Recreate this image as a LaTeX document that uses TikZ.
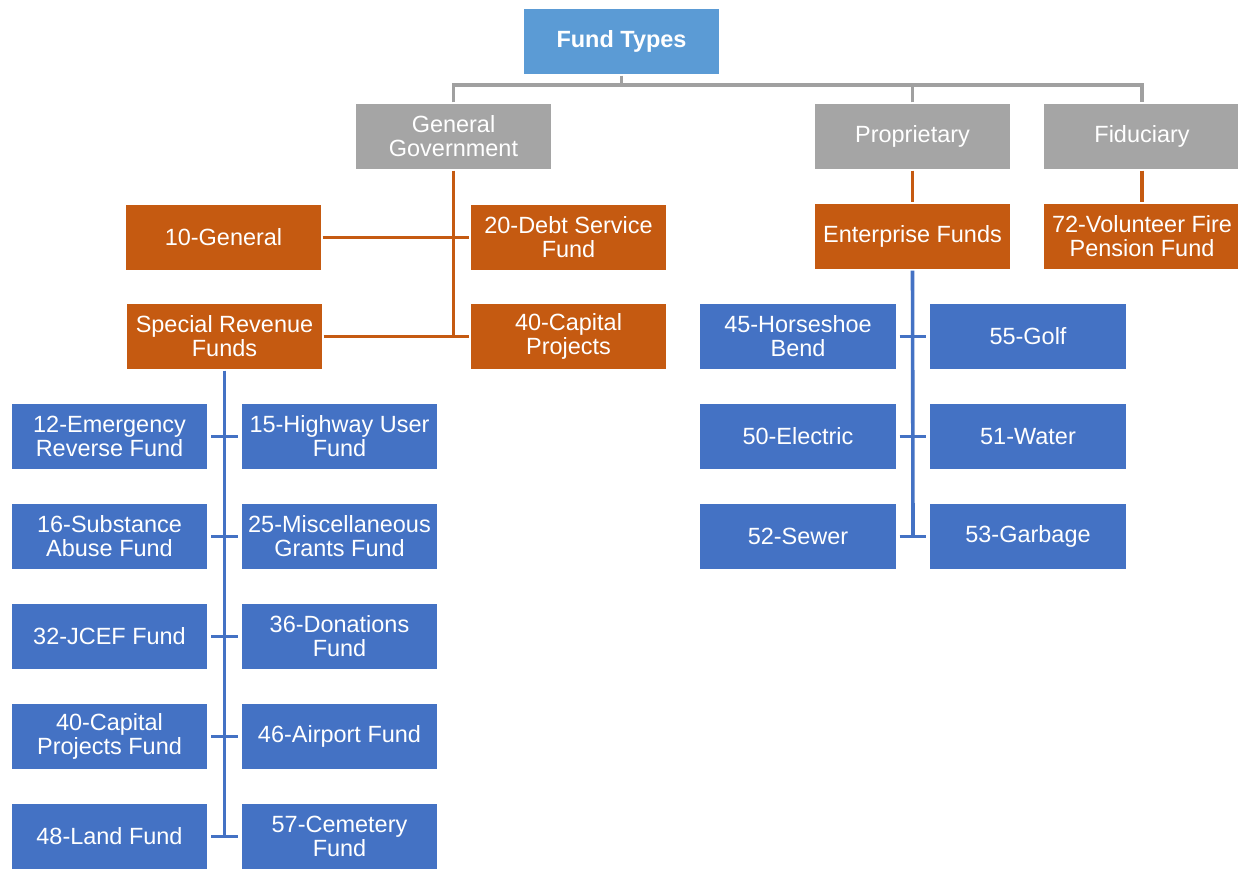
\documentclass[tikz,border=0pt]{standalone}
\usepackage{fontspec}
\setmainfont{Liberation Sans}
\definecolor{bluebox}{HTML}{4472C4}
\definecolor{topblue}{HTML}{5B9BD5}
\definecolor{graybox}{HTML}{A5A5A5}
\definecolor{grayline}{HTML}{A0A0A0}
\definecolor{orangebox}{HTML}{C55A11}
\begin{document}
\begin{tikzpicture}[x=0.75pt,y=-0.75pt,
  box/.style={draw=white, line width=0.8pt, minimum width=147.75pt, minimum height=50.25pt,
    align=center, text=white, inner sep=0pt, font=\fontsize{17.6}{18}\selectfont},
  bluefill/.style={box, fill=bluebox},
  grayfill/.style={box, fill=graybox},
  orangefill/.style={box, fill=orangebox},
  topfill/.style={box, fill=topblue, font=\fontsize{17.6}{18}\selectfont\bfseries},
  grayconn/.style={draw=grayline, line width=2.3pt},
  orangeconn/.style={draw=orangebox, line width=2.6pt},
  blueconn/.style={draw=bluebox, line width=2.7pt},
]
\path[use as bounding box] (0,0) rectangle (1238,869);
\clip (0,0) rectangle (1238,869);
\fill[white] (0,0) rectangle (1238,869);

\coordinate (hub) at (621.5,85);
\coordinate (gl) at (453.5,85);
\coordinate (gr) at (1142,85);
\coordinate (gvb) at (453.5,336.5);
\coordinate (lvb) at (224.5,836.5);
\coordinate (rvb) at (913,536.5);

% top level
\node[topfill] (ft) at (621.5,41.5) {Fund Types};
\node[grayfill] (gg) at (453.5,136.5) {General\\Government};
\node[grayfill] (prop) at (912.5,136.5) {Proprietary};
\node[grayfill] (fid) at (1142,136.5) {Fiduciary};

% orange level
\node[orangefill] (gen10) at (223.5,237.5) {10-General};
\node[orangefill] (debt20) at (568.5,237.5) {20-Debt Service\\Fund};
\node[orangefill] (srf) at (224.5,336.5) {Special Revenue\\Funds};
\node[orangefill] (cap40) at (568.5,336.5) {40-Capital\\Projects};
\node[orangefill] (ent) at (912.5,236.5) {Enterprise Funds};
\node[orangefill] (vol72) at (1142,236.5) {72-Volunteer Fire\\Pension Fund};

% special revenue children
\node[bluefill] (e12) at (109.5,436.5) {12-Emergency\\Reverse Fund};
\node[bluefill] (h15) at (339.5,436.5) {15-Highway User\\Fund};
\node[bluefill] (s16) at (109.5,536.5) {16-Substance\\Abuse Fund};
\node[bluefill] (m25) at (339.5,536.5) {25-Miscellaneous\\Grants Fund};
\node[bluefill] (j32) at (109.5,636.5) {32-JCEF Fund};
\node[bluefill] (d36) at (339.5,636.5) {36-Donations\\Fund};
\node[bluefill] (c40) at (109.5,736.5) {40-Capital\\Projects Fund};
\node[bluefill] (a46) at (339.5,736.5) {46-Airport Fund};
\node[bluefill] (l48) at (109.5,836.5) {48-Land Fund};
\node[bluefill] (c57) at (339.5,836.5) {57-Cemetery\\Fund};

% enterprise children
\node[bluefill] (h45) at (798,336.5) {45-Horseshoe\\Bend};
\node[bluefill] (g55) at (1028,336.5) {55-Golf};
\node[bluefill] (el50) at (798,436.5) {50-Electric};
\node[bluefill] (w51) at (1028,436.5) {51-Water};
\node[bluefill] (s52) at (798,536.5) {52-Sewer};
\node[bluefill] (g53) at (1028,536.5) {53-Garbage};

% gray connectors
\draw[grayconn] (ft.south) -- (hub);
\draw[grayconn] (gg.north) -- (gl) -- (gr) -- (fid.north);
\draw[grayconn] (prop.north) -- (prop.north |- hub);

% orange connectors
\draw[orangeconn] (gg.south) -- (gvb);
\draw[orangeconn] (gen10.east) -- (debt20.west);
\draw[orangeconn] (srf.east) -- (cap40.west);
\draw[orangeconn] (prop.south) -- (ent.north);
\draw[orangeconn] (fid.south) -- (vol72.north);

% blue connectors
\draw[blueconn] (srf.south) -- (lvb);
\foreach \a/\b in {e12/h15,s16/m25,j32/d36,c40/a46,l48/c57}
  \draw[blueconn, shorten <=2pt, shorten >=2pt] (\a.east) -- (\b.west);
\draw[blueconn] (ent.south) -- (rvb);
\foreach \a/\b in {h45/g55,el50/w51,s52/g53}
  \draw[blueconn, shorten <=2pt, shorten >=2pt] (\a.east) -- (\b.west);
\end{tikzpicture}
\end{document}
